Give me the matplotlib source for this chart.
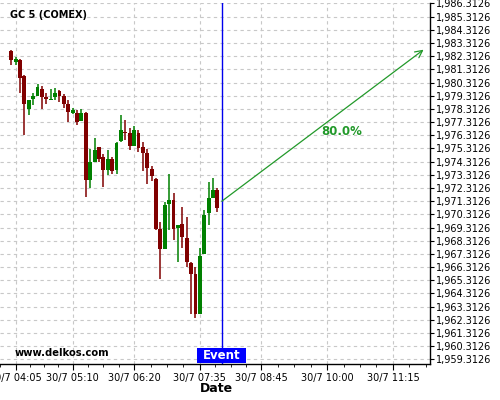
import matplotlib
matplotlib.use("Agg")
import matplotlib.pyplot as plt
import matplotlib.dates as mdates
from matplotlib.patches import Rectangle
from datetime import datetime, timedelta
import numpy as np

# 5 minute candles, GC 5 (COMEX), 30/7
first_candle = datetime(2020, 7, 30, 4, 0)
opens = [1982.69, 1981.91, 1982.06, 1980.79, 1978.31, 1979.07, 1979.33, 1979.86, 1979.20, 1979.02,
         1979.22, 1979.65, 1979.27, 1978.65, 1978.01, 1978.02, 1977.40, 1978.01, 1972.91, 1974.27,
         1975.43, 1974.67, 1973.66, 1974.55, 1973.66, 1975.89, 1976.57, 1976.52, 1975.51, 1976.49,
         1975.43, 1974.98, 1973.79, 1973.03, 1969.24, 1967.70, 1971.09, 1971.44, 1969.29, 1969.57,
         1968.49, 1966.64, 1965.78, 1962.75, 1967.30, 1970.43, 1971.54, 1972.15]
highs = [1982.81, 1982.28, 1982.10, 1980.87, 1979.00, 1979.55, 1980.24, 1980.06, 1979.55, 1979.83,
         1979.90, 1979.73, 1979.48, 1978.97, 1978.39, 1978.21, 1978.34, 1978.05, 1975.31, 1976.07,
         1975.45, 1974.93, 1975.23, 1974.63, 1975.80, 1977.89, 1977.46, 1976.83, 1977.00, 1976.75,
         1975.81, 1975.31, 1973.96, 1973.05, 1969.74, 1971.26, 1973.34, 1971.90, 1969.52, 1970.84,
         1970.08, 1966.70, 1966.33, 1967.73, 1970.68, 1972.75, 1973.11, 1972.28]
lows = [1981.68, 1981.68, 1979.55, 1976.37, 1977.89, 1978.59, 1979.27, 1978.27, 1978.67, 1979.00,
        1979.02, 1978.84, 1978.42, 1977.33, 1977.95, 1977.08, 1977.38, 1971.64, 1972.28, 1974.25,
        1974.29, 1972.40, 1973.29, 1973.36, 1973.41, 1975.81, 1975.94, 1975.18, 1975.48, 1975.05,
        1973.61, 1972.60, 1972.85, 1969.12, 1965.38, 1967.68, 1969.12, 1968.36, 1966.71, 1967.73,
        1966.33, 1962.75, 1962.42, 1962.72, 1967.28, 1969.49, 1971.52, 1970.50]
closes = [1982.06, 1982.13, 1980.66, 1978.65, 1978.97, 1979.33, 1979.96, 1979.22, 1979.05, 1979.10,
          1979.50, 1979.30, 1978.65, 1978.08, 1978.21, 1977.33, 1978.01, 1972.91, 1974.27, 1975.23,
          1974.55, 1973.66, 1974.48, 1973.59, 1975.76, 1976.70, 1976.45, 1975.51, 1976.75, 1975.35,
          1974.98, 1973.82, 1973.26, 1969.24, 1967.65, 1971.01, 1971.39, 1969.24, 1969.49, 1968.56,
          1966.67, 1965.78, 1962.75, 1967.14, 1970.25, 1971.56, 1972.15, 1970.81]

tick_times = ["04:05", "05:10", "06:20", "07:35", "08:45", "10:00", "11:15"]
event_time = "08:00"
arrow_start = ("08:00", 1971.31)
arrow_end = ("11:50", 1982.81)
prob_text = "80.0%"
prob_pos = ("10:17", 1976.62)
y_ticks = [1959.3126 + i for i in range(28)]


def at(hhmm):
    h, m = hhmm.split(":")
    return datetime(2020, 7, 30, int(h), int(m))


def main():
    fig = plt.figure(figsize=(5, 4), dpi=100)
    ax = fig.add_axes([0.0, 0.089, 0.86, 0.9035])

    times = [first_candle + timedelta(minutes=5 * i) for i in range(len(opens))]
    x = mdates.date2num(times)
    body_w = 4.4 / 1440.0
    for xi, o, h, l, c in zip(x, opens, highs, lows, closes):
        col = "#008000" if c >= o else "#800000"
        ax.vlines(xi, l, h, color=col, linewidth=1.1, zorder=3)
        ax.bar(xi, max(abs(c - o), 0.06), bottom=min(o, c), width=body_w,
               color=col, linewidth=0, zorder=3)

    # axes limits
    ax.set_xlim(mdates.date2num(first_candle - timedelta(minutes=11.4)),
                mdates.date2num(first_candle + timedelta(minutes=477.3)))
    ax.set_ylim(1958.93, 1986.35)

    # y axis on the right
    ax.yaxis.tick_right()
    ax.set_yticks(y_ticks)
    ax.set_yticklabels(["{:,.4f}".format(v) for v in y_ticks])
    ax.tick_params(axis="y", labelsize=7, length=3, width=0.8, pad=1.5, colors="black")

    # x axis
    major = mdates.date2num([at(t) for t in tick_times])
    ax.set_xticks(major)
    ax.set_xticklabels(["30/7 " + t for t in tick_times])
    minors = []
    for a, b in zip(major[:-1], major[1:]):
        minors += [a + (b - a) * k / 4.0 for k in (1, 2, 3)]
    step = (major[-1] - major[-2]) / 4.0
    minors += [major[0] - step * 0.95, major[-1] + step, major[-1] + 2 * step]
    ax.set_xticks(minors, minor=True)
    ax.tick_params(axis="x", which="major", labelsize=7, length=4, width=0.8, pad=2)
    ax.tick_params(axis="x", which="minor", length=2, width=0.6)

    for s in ("left", "top"):
        ax.spines[s].set_visible(False)
    for s in ("right", "bottom"):
        ax.spines[s].set_linewidth(1.0)
        ax.spines[s].set_color("black")

    ax.grid(True, which="major", color="#c8c8c8", linestyle=(0, (3, 3)), linewidth=0.8)
    ax.set_axisbelow(True)

    # event line and label
    ev = mdates.date2num(at(event_time))
    ax.axvline(ev, color="#0000ee", linewidth=1.0, zorder=4)
    half = 24.5 / 0.88 / 1440.0
    ax.add_patch(Rectangle((ev - half, 0.0036), 2 * half, 0.0415,
                           transform=ax.get_xaxis_transform(), facecolor="#0000ff",
                           edgecolor="none", zorder=5, clip_on=False))
    ax.text(ev, 0.025, "Event", transform=ax.get_xaxis_transform(), ha="center",
            va="center", color="white", fontsize=8.5, fontweight="bold", zorder=6)

    # forecast arrow
    ax.annotate("", xy=(mdates.date2num(at(arrow_end[0])), arrow_end[1]),
                xytext=(mdates.date2num(at(arrow_start[0])), arrow_start[1]),
                arrowprops=dict(arrowstyle="->", color="#22992a", linewidth=0.9,
                                mutation_scale=13, shrinkA=0, shrinkB=0), zorder=5)
    ax.text(mdates.date2num(at(prob_pos[0])), prob_pos[1], prob_text, color="#22992a",
            fontsize=8.5, fontweight="bold", ha="center", va="center", zorder=5)

    fig.text(10 / 500.0, 1 - 15 / 400.0, "GC 5 (COMEX)", fontsize=7, fontweight="bold",
             ha="left", va="center")
    fig.text(15 / 500.0, 1 - 353 / 400.0, "www.delkos.com", fontsize=7.2, fontweight="bold",
             ha="left", va="center")
    fig.text(216 / 500.0, 1 - 389 / 400.0, "Date", fontsize=9, fontweight="bold",
             ha="center", va="center")

    fig.savefig("out.png", dpi=100)


if __name__ == '__main__':
    main()
